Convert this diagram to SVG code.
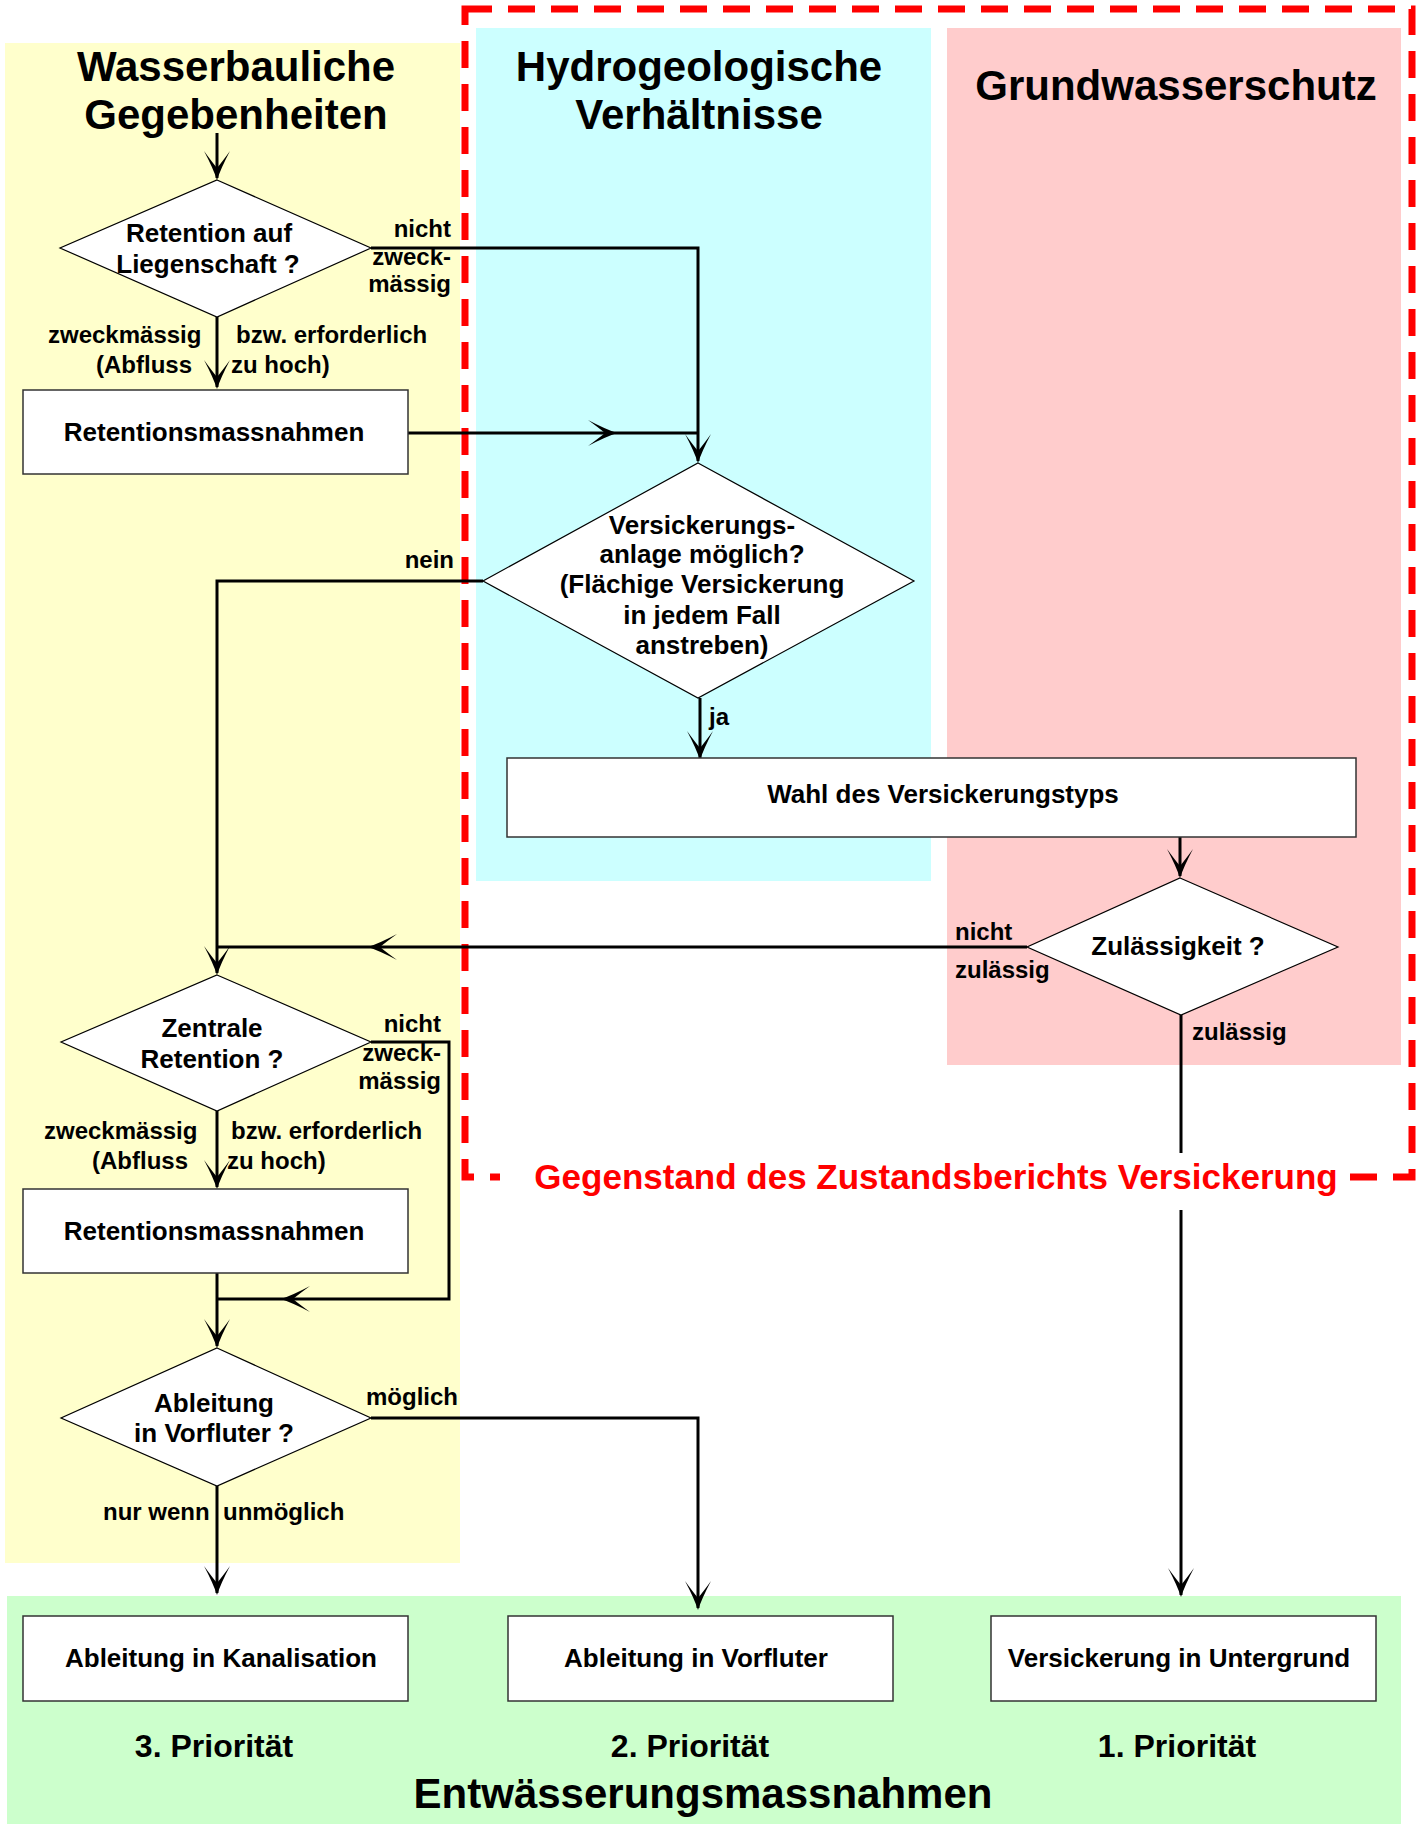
<svg xmlns="http://www.w3.org/2000/svg" xmlns:xlink="http://www.w3.org/1999/xlink" width="1422" height="1824" viewBox="0 0 1422 1824">
<style>
text{font-family:"Liberation Sans",Arial,sans-serif;font-weight:bold;fill:#000}
.hd{font-size:42px;text-anchor:middle}
.nt{font-size:26px;text-anchor:middle}
.lb{font-size:24px}
.le{font-size:24px;text-anchor:end}
.pr{font-size:32px;text-anchor:middle}
.box{fill:#fff;stroke:#333;stroke-width:1.5}
.dia{fill:#fff;stroke:#000;stroke-width:1.2}
.ln{fill:none;stroke:#000;stroke-width:3}
</style>
<defs>
<path id="ah" d="M0,0 Q-4,-12 -13,-29 Q-5,-18 0,-12 Q5,-18 13,-29 Q4,-12 0,0Z" fill="#000"/>
</defs>
<g id="panels">
<rect x="5" y="43" width="455" height="1520" fill="#FFFFCC"/>
<rect x="476" y="28" width="455" height="853" fill="#CCFFFF"/>
<rect x="947" y="28" width="454" height="1037" fill="#FFCCCC"/>
<rect x="7" y="1596" width="1394" height="228" fill="#CCFFCC"/>
<text class="hd" x="236" y="81">Wasserbauliche</text>
<text class="hd" x="236" y="129">Gegebenheiten</text>
<text class="hd" x="699" y="81">Hydrogeologische</text>
<text class="hd" x="699" y="129">Verhältnisse</text>
<text class="hd" x="1176" y="100">Grundwasserschutz</text>
<text class="pr" x="214" y="1757">3. Priorität</text>
<text class="pr" x="690" y="1757">2. Priorität</text>
<text class="pr" x="1177" y="1757">1. Priorität</text>
<text class="hd" x="703" y="1808">Entwässerungsmassnahmen</text>
</g>
<g id="scope">
<path d="M465,9 H1412 V1177 H465 Z" fill="none" stroke="#FF0000" stroke-width="7" stroke-dasharray="27 16"/>
</g>
<g id="connectors">
<path class="ln" d="M217,133 V178"/>
<use xlink:href="#ah" transform="translate(217,180)"/>
<path class="ln" d="M217,317 V387"/>
<use xlink:href="#ah" transform="translate(217,389)"/>
<path class="ln" d="M371,248 H698 V461"/>
<use xlink:href="#ah" transform="translate(698,463)"/>
<path class="ln" d="M408,433 H698"/>
<use xlink:href="#ah" transform="translate(617,433) rotate(-90)"/>
<path class="ln" d="M483,581 H217 V973"/>
<use xlink:href="#ah" transform="translate(217,975)"/>
<path class="ln" d="M700,698 V758"/>
<use xlink:href="#ah" transform="translate(700,760)"/>
<path class="ln" d="M1180,837 V876"/>
<use xlink:href="#ah" transform="translate(1180,878)"/>
<path class="ln" d="M1027,947 H217"/>
<use xlink:href="#ah" transform="translate(368,947) rotate(90)"/>
<path class="ln" d="M1181,1015 V1595" stroke-width="2.5"/>
<use xlink:href="#ah" transform="translate(1181,1597)"/>
<path class="ln" d="M217,1111 V1187"/>
<use xlink:href="#ah" transform="translate(217,1189)"/>
<path class="ln" d="M371,1042 H449 V1299 H217"/>
<use xlink:href="#ah" transform="translate(281,1299) rotate(90)"/>
<path class="ln" d="M217,1273 V1346"/>
<use xlink:href="#ah" transform="translate(217,1348)"/>
<path class="ln" d="M371,1418 H698 V1608" stroke-width="2.5"/>
<use xlink:href="#ah" transform="translate(698,1610)"/>
<path class="ln" d="M217,1486 V1593" stroke-width="2.5"/>
<use xlink:href="#ah" transform="translate(217,1595)"/>
</g>
<g id="scope-label">
<rect x="500" y="1153" width="850" height="57" fill="#fff"/>
<text x="936" y="1189" style="font-size:35px;text-anchor:middle;fill:#FF0000">Gegenstand des Zustandsberichts Versickerung</text>
</g>
<g id="d1">
<polygon class="dia" points="217,180 371,248 217,317 60,248"/>
<text class="nt" x="209" y="242">Retention auf</text>
<text class="nt" x="208" y="273">Liegenschaft ?</text>
<text class="le" x="451" y="237">nicht</text>
<text class="le" x="451" y="265">zweck-</text>
<text class="le" x="451" y="292">mässig</text>
<text class="lb" x="48" y="343">zweckmässig</text>
<text class="lb" x="96" y="373">(Abfluss</text>
<text class="lb" x="236" y="343">bzw. erforderlich</text>
<text class="lb" x="231" y="373">zu hoch)</text>
</g>
<g id="box1">
<rect class="box" x="23" y="390" width="385" height="84"/>
<text class="nt" x="214" y="441">Retentionsmassnahmen</text>
</g>
<g id="d2">
<polygon class="dia" points="698,463 914,581 698,698 483,581"/>
<text class="nt" x="702" y="534">Versickerungs-</text>
<text class="nt" x="702" y="563">anlage möglich?</text>
<text class="nt" x="702" y="593">(Flächige Versickerung</text>
<text class="nt" x="702" y="624">in jedem Fall</text>
<text class="nt" x="702" y="654">anstreben)</text>
<text class="le" x="454" y="568">nein</text>
<text class="lb" x="709" y="725">ja</text>
</g>
<g id="wahl">
<rect class="box" x="507" y="758" width="849" height="79"/>
<text class="nt" x="943" y="803">Wahl des Versickerungstyps</text>
</g>
<g id="d3">
<polygon class="dia" points="1180,878 1338,947 1181,1015 1027,947"/>
<text class="nt" x="1178" y="955">Zulässigkeit ?</text>
<text class="lb" x="955" y="940">nicht</text>
<text class="lb" x="955" y="978">zulässig</text>
<text class="lb" x="1192" y="1040">zulässig</text>
</g>
<g id="d4">
<polygon class="dia" points="217,975 371,1042 217,1111 61,1042"/>
<text class="nt" x="212" y="1037">Zentrale</text>
<text class="nt" x="212" y="1068">Retention ?</text>
<text class="le" x="441" y="1032">nicht</text>
<text class="le" x="441" y="1061">zweck-</text>
<text class="le" x="441" y="1089">mässig</text>
<text class="lb" x="44" y="1139">zweckmässig</text>
<text class="lb" x="92" y="1169">(Abfluss</text>
<text class="lb" x="231" y="1139">bzw. erforderlich</text>
<text class="lb" x="227" y="1169">zu hoch)</text>
</g>
<g id="box2">
<rect class="box" x="23" y="1189" width="385" height="84"/>
<text class="nt" x="214" y="1240">Retentionsmassnahmen</text>
</g>
<g id="d5">
<polygon class="dia" points="217,1348 371,1418 217,1486 61,1418"/>
<text class="nt" x="214" y="1412">Ableitung</text>
<text class="nt" x="214" y="1442">in Vorfluter ?</text>
<text class="lb" x="366" y="1405">möglich</text>
<text class="lb" x="103" y="1520">nur wenn</text>
<text class="lb" x="223" y="1520">unmöglich</text>
</g>
<g id="out1">
<rect class="box" x="23" y="1616" width="385" height="85"/>
<text class="nt" x="221" y="1667">Ableitung in Kanalisation</text>
</g>
<g id="out2">
<rect class="box" x="508" y="1616" width="385" height="85"/>
<text class="nt" x="696" y="1667">Ableitung in Vorfluter</text>
</g>
<g id="out3">
<rect class="box" x="991" y="1616" width="385" height="85"/>
<text class="nt" x="1179" y="1667">Versickerung in Untergrund</text>
</g>
</svg>
